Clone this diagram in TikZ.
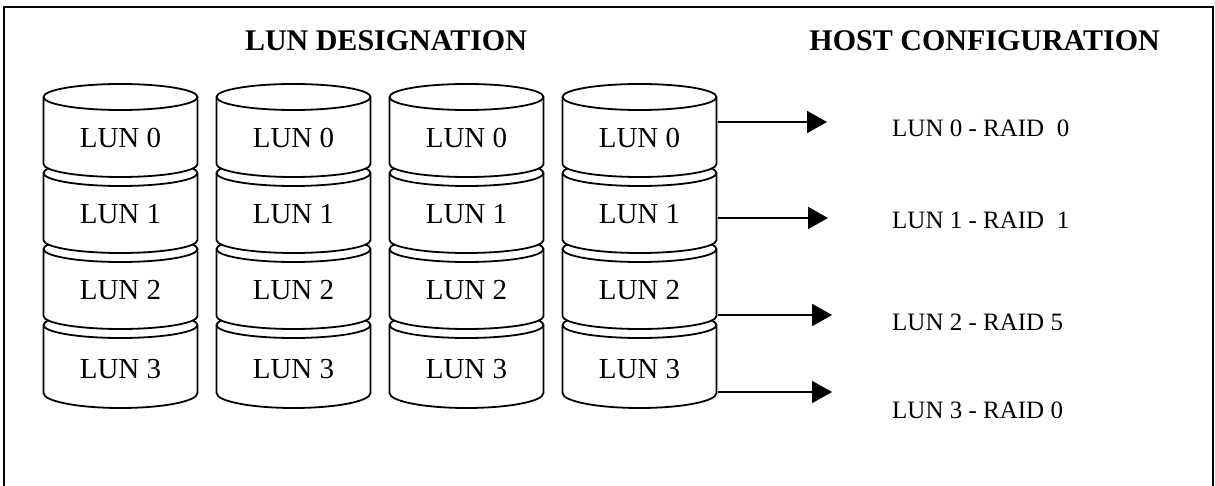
\documentclass[tikz,border=0pt]{standalone}
\usepackage{fontspec}
\setmainfont{Liberation Serif}
\usetikzlibrary{arrows.meta}
\begin{document}
\begin{tikzpicture}[x=1pt,y=-1pt,
  seg/.style={draw=black,fill=white,line width=1.8pt,line join=round},
  lbl/.style={font=\fontsize{29}{30}\selectfont,inner sep=0pt},
  rlbl/.style={font=\fontsize{25}{30}\selectfont,inner sep=0pt,anchor=west},
  head/.style={font=\fontsize{30}{32}\selectfont\bfseries,inner sep=0pt},
  conn/.style={line width=1.8pt,-{Triangle[length=20pt,width=22pt]}},
  frame/.style={line width=1.8pt}]
\useasboundingbox (0,0) rectangle (1215,486);
\draw[frame] (4,486) -- (4,7) -- (1213,7) -- (1213,486);
\node[head] (h1) at (386,41) {LUN DESIGNATION};
\node[head,anchor=east] (h2) at (1160,41) {HOST CONFIGURATION};
\def\a{77}\def\ry{13}
\foreach \c in {0,1,2,3}{
  \pgfmathsetmacro{\cx}{120.5+173*\c}
  \foreach \k/\dy/\h/\rb in {3/44/68/15,2/41/67/13,1/41/67/13,0/41/67/13}{
    \pgfmathsetmacro{\ty}{97+76*\k}
    \path[seg] (\cx-\a,\ty) -- (\cx-\a,\ty+\h)
      arc[start angle=180,end angle=0,x radius=\a,y radius=\rb]
      -- (\cx+\a,\ty)
      arc[start angle=360,end angle=180,x radius=\a,y radius=\ry] -- cycle;
    \draw[line width=1.8pt] (\cx-\a,\ty) arc[start angle=180,end angle=0,x radius=\a,y radius=\ry];
    \node[lbl] (l\c\k) at (\cx,\ty+\dy) {LUN \k};
  }
}
\coordinate (s0) at (717.5,122);
\coordinate (s1) at (717.5,218);
\coordinate (s2) at (717.5,315);
\coordinate (s3) at (717.5,392);
\coordinate (e0) at (827,122);
\coordinate (e1) at (828,218);
\coordinate (e2) at (832,315);
\coordinate (e3) at (832,392);
\foreach \i in {0,1,2,3}{\draw[conn] (s\i) -- (e\i);}
\node[rlbl] (r0) at (892,128) {LUN 0 - RAID\ \ 0};
\node[rlbl] (r1) at (892,220) {LUN 1 - RAID\ \ 1};
\node[rlbl] (r2) at (892,322) {LUN 2 - RAID 5};
\node[rlbl] (r3) at (892,410) {LUN 3 - RAID 0};
\end{tikzpicture}
\end{document}
